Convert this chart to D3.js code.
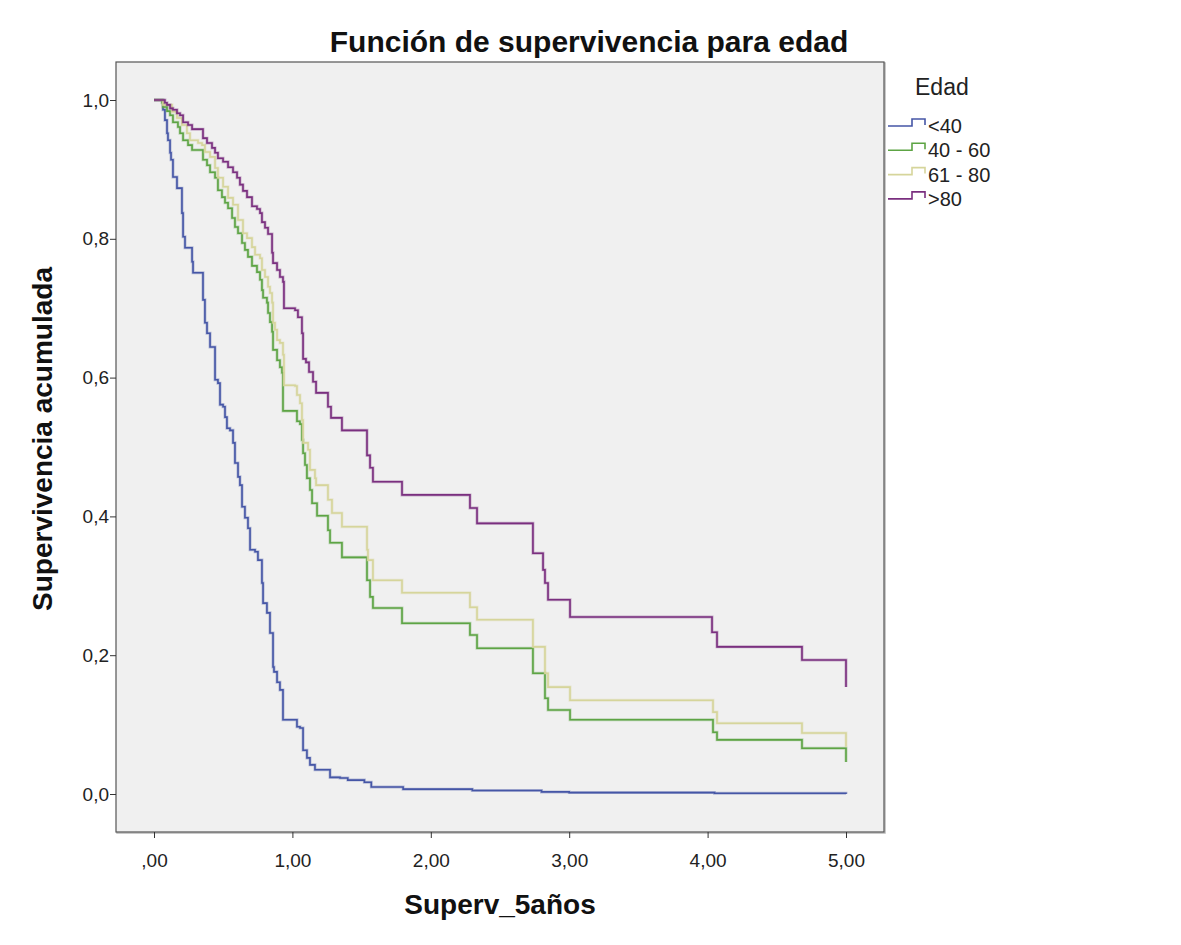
<!DOCTYPE html>
<html><head><meta charset="utf-8">
<script src="https://cdn.jsdelivr.net/npm/d3@7"></script>
<style>
html,body{margin:0;padding:0;background:#fff;}
svg{display:block;font-family:"Liberation Sans",Arial,sans-serif;}
</style></head>
<body><svg id="chart" width="1181" height="945"></svg>
<script>
// ---- data ----
const title = "Función de supervivencia para edad";
const xTitle = "Superv_5años";
const yTitle = "Supervivencia acumulada";
const legendTitle = "Edad";
const groups = ["<40", "40 - 60", "61 - 80", ">80"];
const colors = ["#4556a6", "#5da444", "#d6d59b", "#7a2f7f"];
const xTicks = [0, 1, 2, 3, 4, 5];
const xTickLabels = [",00", "1,00", "2,00", "3,00", "4,00", "5,00"];
const yTicks = [0, 0.2, 0.4, 0.6, 0.8, 1.0];
const yTickLabels = ["0,0", "0,2", "0,4", "0,6", "0,8", "1,0"];

// [time, cumulative survival] step points per group
const surv40 = [
 [0,1.0],[0.043,1.0],[0.065,0.986],[0.079,0.971],[0.094,0.952],[0.101,0.942],[0.116,0.924],
 [0.123,0.914],[0.137,0.889],[0.166,0.873],[0.202,0.837],[0.210,0.803],[0.224,0.787],
 [0.275,0.767],[0.282,0.751],[0.354,0.712],[0.368,0.679],[0.383,0.664],[0.405,0.644],
 [0.441,0.597],[0.462,0.592],[0.477,0.561],[0.499,0.558],[0.513,0.543],[0.527,0.527],
 [0.549,0.524],[0.571,0.506],[0.585,0.477],[0.607,0.457],[0.621,0.445],[0.636,0.414],
 [0.657,0.398],[0.679,0.383],[0.694,0.352],[0.730,0.349],[0.751,0.337],[0.780,0.304],
 [0.788,0.275],[0.816,0.261],[0.838,0.232],[0.860,0.183],[0.867,0.176],[0.889,0.161],
 [0.910,0.150],[0.932,0.107],[1.033,0.097],[1.055,0.095],[1.077,0.063],[1.105,0.052],
 [1.127,0.042],[1.163,0.035],[1.272,0.024],[1.344,0.023],[1.40,0.020],[1.52,0.017],
 [1.57,0.010],[1.80,0.007],[2.30,0.005],[2.80,0.003],[3.00,0.002],[4.05,0.001],[5.0,0.0]
];
const surv40_60 = [
 [0,1.0],[0.058,0.996],[0.065,0.990],[0.094,0.984],[0.116,0.978],[0.137,0.968],[0.173,0.961],
 [0.188,0.952],[0.210,0.942],[0.246,0.935],[0.275,0.928],[0.354,0.914],[0.383,0.906],
 [0.405,0.896],[0.441,0.888],[0.462,0.870],[0.491,0.860],[0.513,0.852],[0.535,0.844],
 [0.564,0.830],[0.585,0.817],[0.607,0.808],[0.636,0.794],[0.657,0.784],[0.679,0.774],
 [0.708,0.761],[0.744,0.752],[0.766,0.741],[0.780,0.726],[0.788,0.715],[0.816,0.708],
 [0.824,0.693],[0.838,0.680],[0.853,0.666],[0.860,0.640],[0.889,0.625],[0.910,0.615],
 [0.925,0.607],[0.932,0.552],[1.033,0.537],[1.055,0.533],[1.069,0.510],[1.077,0.491],
 [1.091,0.474],[1.105,0.455],[1.127,0.438],[1.142,0.419],[1.178,0.401],[1.257,0.380],
 [1.272,0.362],[1.358,0.341],[1.539,0.308],[1.561,0.284],[1.582,0.268],[1.792,0.246],
 [2.283,0.229],[2.334,0.210],[2.738,0.174],[2.825,0.138],[2.847,0.121],[3.006,0.107],
 [4.039,0.089],[4.068,0.078],[4.682,0.066],[5.0,0.046]
];
const surv61_80 = [
 [0,1.0],[0.065,0.993],[0.130,0.983],[0.166,0.974],[0.202,0.964],[0.238,0.952],[0.260,0.942],
 [0.318,0.938],[0.347,0.935],[0.368,0.925],[0.405,0.918],[0.441,0.902],[0.462,0.888],
 [0.499,0.875],[0.535,0.859],[0.571,0.849],[0.607,0.827],[0.643,0.808],[0.672,0.801],
 [0.708,0.788],[0.730,0.777],[0.766,0.772],[0.780,0.755],[0.802,0.745],[0.824,0.731],
 [0.838,0.722],[0.853,0.708],[0.860,0.679],[0.874,0.669],[0.889,0.654],[0.910,0.650],
 [0.932,0.633],[0.939,0.589],[1.019,0.588],[1.033,0.575],[1.055,0.563],[1.069,0.539],
 [1.077,0.506],[1.113,0.496],[1.127,0.467],[1.163,0.455],[1.171,0.445],[1.257,0.424],
 [1.286,0.405],[1.358,0.385],[1.539,0.352],[1.546,0.337],[1.582,0.308],[1.792,0.290],
 [2.283,0.269],[2.334,0.251],[2.738,0.212],[2.825,0.174],[2.847,0.154],[3.006,0.135],
 [4.039,0.118],[4.068,0.102],[4.682,0.088],[5.0,0.068]
];
const survMas80 = [
 [0,1.0],[0.079,0.996],[0.094,0.993],[0.116,0.988],[0.137,0.986],[0.166,0.981],[0.188,0.978],
 [0.210,0.968],[0.246,0.964],[0.275,0.958],[0.354,0.945],[0.383,0.938],[0.419,0.931],
 [0.441,0.924],[0.462,0.916],[0.499,0.911],[0.535,0.903],[0.571,0.896],[0.600,0.888],
 [0.621,0.878],[0.643,0.869],[0.672,0.860],[0.708,0.847],[0.744,0.843],[0.766,0.837],
 [0.780,0.824],[0.802,0.816],[0.824,0.807],[0.853,0.780],[0.860,0.765],[0.889,0.755],
 [0.910,0.745],[0.932,0.738],[0.939,0.700],[1.019,0.697],[1.040,0.687],[1.069,0.664],
 [1.077,0.627],[1.098,0.622],[1.120,0.608],[1.149,0.594],[1.171,0.578],[1.257,0.558],
 [1.279,0.542],[1.358,0.524],[1.539,0.488],[1.561,0.470],[1.582,0.450],[1.792,0.431],
 [2.283,0.412],[2.334,0.390],[2.738,0.347],[2.811,0.323],[2.825,0.304],[2.847,0.280],
 [3.006,0.255],[4.032,0.233],[4.068,0.212],[4.682,0.193],[5.0,0.154]
];
const series = [surv40, surv40_60, surv61_80, survMas80];

// ---- drawing ----
const svg = d3.select("#chart");
const box = {left:116, right:884, top:62, bottom:832};
const x = d3.scaleLinear().domain([0,5]).range([154,846]);
const y = d3.scaleLinear().domain([0,1]).range([794,100]);

svg.append("rect").attr("x",box.left+1).attr("y",box.top+1)
  .attr("width",box.right-box.left).attr("height",box.bottom-box.top)
  .attr("fill","none").attr("stroke","#b8b8b8").attr("stroke-width",1.5);
svg.append("rect").attr("x",box.left).attr("y",box.top)
  .attr("width",box.right-box.left).attr("height",box.bottom-box.top)
  .attr("fill","#f0f0f0").attr("stroke","#555").attr("stroke-width",1.2);

// axes
const xAxis = d3.axisBottom(x).tickValues(xTicks).tickSize(6)
  .tickFormat((d,i)=>xTickLabels[i]);
const gx = svg.append("g").attr("transform",`translate(0,${box.bottom})`).call(xAxis);
gx.select(".domain").remove();
gx.selectAll("line").attr("stroke","#333");
gx.selectAll("text").attr("font-size",19).attr("fill","#222").attr("y",35).attr("dy",0)
  .attr("font-family","'Liberation Sans',Arial,sans-serif");

const yAxis = d3.axisLeft(y).tickValues(yTicks).tickSize(6)
  .tickFormat((d,i)=>yTickLabels[i]);
const gy = svg.append("g").attr("transform",`translate(${box.left},0)`).call(yAxis);
gy.select(".domain").remove();
gy.selectAll("line").attr("stroke","#333");
gy.selectAll("text").attr("font-size",19).attr("fill","#222").attr("x",-7)
  .attr("font-family","'Liberation Sans',Arial,sans-serif");

// curves
const line = d3.line().x(d=>x(d[0])).y(d=>y(d[1])).curve(d3.curveStepAfter);
series.forEach((s,i)=>{
  svg.append("path").datum(s).attr("d",line).attr("fill","none")
    .attr("stroke",colors[i]).attr("stroke-width",3).attr("stroke-opacity",0.35);
  svg.append("path").datum(s).attr("d",line).attr("fill","none")
    .attr("stroke",colors[i]).attr("stroke-width",1.6);
});

// titles
svg.append("text").attr("x",589).attr("y",52).attr("text-anchor","middle")
  .attr("font-size",30).attr("font-weight","bold").attr("fill","#111").text(title);
svg.append("text").attr("x",500).attr("y",914).attr("text-anchor","middle")
  .attr("font-size",28).attr("font-weight","bold").attr("fill","#111").text(xTitle);
svg.append("text").attr("transform","translate(52,439) rotate(-90)").attr("text-anchor","middle")
  .attr("font-size",28).attr("font-weight","bold").attr("fill","#111").text(yTitle);

// legend
svg.append("text").attr("x",915).attr("y",95).attr("font-size",23).attr("fill","#222").text(legendTitle);
groups.forEach((g,i)=>{
  const yy = 126 + i*24.3;
  const gp = svg.append("g");
  gp.append("path").attr("d",`M888,${yy} H912 V${yy-7} H925 V${yy-1}`)
    .attr("fill","none").attr("stroke",colors[i]).attr("stroke-width",1.6);
  gp.append("text").attr("x",928).attr("y",yy+7).attr("font-size",20).attr("fill","#222").text(g);
});
</script></body></html>
